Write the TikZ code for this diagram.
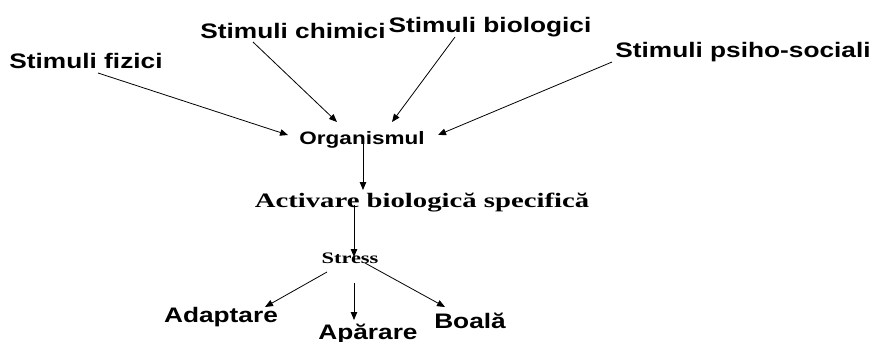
\documentclass[tikz,border=0pt]{standalone}
\usepackage{fontspec}
\usetikzlibrary{arrows.meta}
\newfontfamily\stimfont[FakeStretch=1.25]{Liberation Sans}
\newfontfamily\procfont[FakeStretch=1.4]{Liberation Serif}

\begin{document}
\begin{tikzpicture}[x=1pt,y=-1pt]
    \tikzset{%
      stim/.style={anchor=base, inner sep=0pt,
        font=\stimfont\bfseries\fontsize{21}{25}\selectfont},
      org/.style={anchor=base, inner sep=0pt,
        font=\stimfont\bfseries\fontsize{18}{22}\selectfont},
      proc/.style={anchor=base, inner sep=0pt,
        font=\procfont\bfseries\fontsize{20.5}{24}\selectfont},
      small/.style={anchor=base, inner sep=0pt,
        font=\procfont\bfseries\fontsize{16}{20}\selectfont},
      arr/.style={-{Triangle[length=8pt,width=6.5pt]}, line width=0.8pt},
    }
    \useasboundingbox (0,0) rectangle (875,341);

    % the four kinds of stimuli
    \node[stim] (F) at (86,68) {Stimuli fizici};
    \node[stim] (C) at (293,38) {Stimuli chimici};
    \node[stim] (B) at (490,32) {Stimuli biologici};
    \node[stim] (P) at (743,57) {Stimuli psiho-sociali};

    \node[org] (O) at (362,144) {Organismul};
    \node[proc] (A) at (422,207) {Activare biologică specifică};
    \node[small] (S) at (350,263) {Stress};

    % outcomes
    \node[stim] (S1) at (221,322) {Adaptare};
    \node[stim] (S2) at (368,339) {Apărare};
    \node[stim] (S3) at (470,328) {Boală};

    \draw[arr] ([shift={(12,5)}]F.base) -- ([shift={(-74,-9)}]O.base);
    \draw[arr] ([shift={(-40,4)}]C.base) -- ([shift={(-25,-22)}]O.base);
    \draw[arr] ([shift={(-35,5)}]B.base) -- ([shift={(30,-22)}]O.base);
    \draw[arr] ([shift={(-131,5)}]P.base) -- ([shift={(76,-9)}]O.base);

    \draw[arr] ([shift={(1,-4)}]O.base) -- ([shift={(-59,-17)}]A.base);
    \draw[arr] ([shift={(-68,-2)}]A.base) -- ([shift={(4,-6)}]S.base);

    \draw[arr] ([shift={(-23,9)}]S.base) -- ([shift={(44,-15)}]S1.base);
    \draw[arr] ([shift={(4,20)}]S.base) -- ([shift={(-14,-19)}]S2.base);
    \draw[arr] ([shift={(15,0)}]S.base) -- ([shift={(-25,-21)}]S3.base);
\end{tikzpicture}
\end{document}
